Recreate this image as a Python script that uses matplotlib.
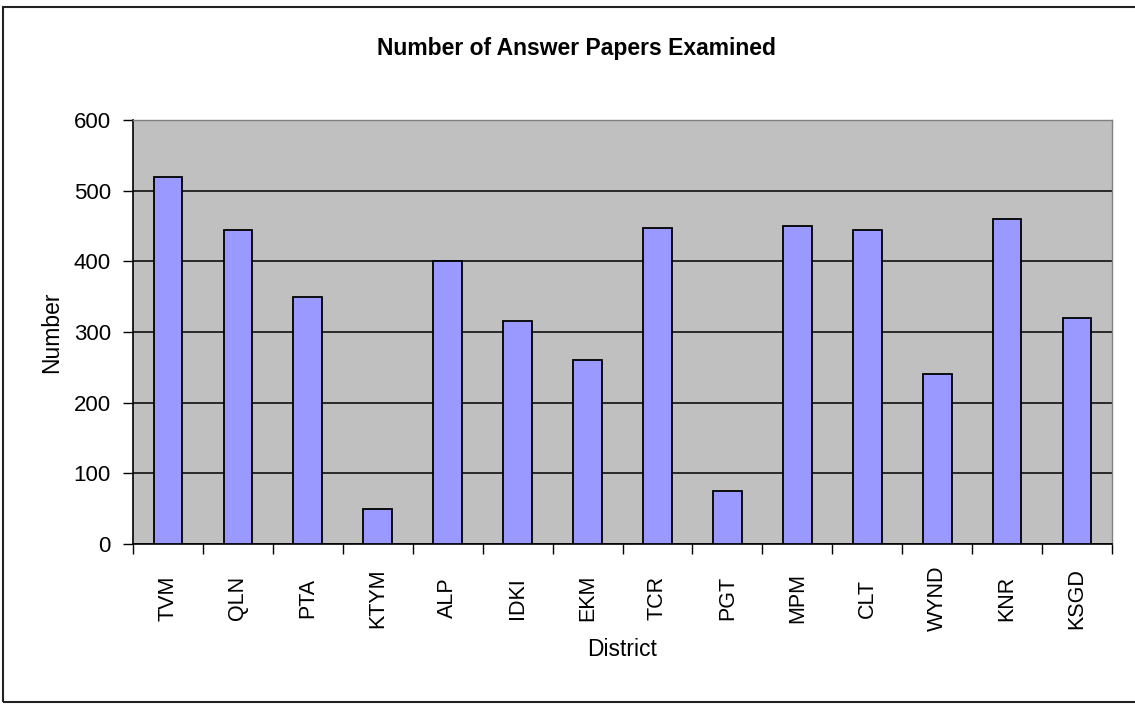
import matplotlib
matplotlib.use("Agg")
import matplotlib.pyplot as plt
from matplotlib.patches import Rectangle
import numpy as np

districts = ["TVM", "QLN", "PTA", "KTYM", "ALP", "IDKI", "EKM",
             "TCR", "PGT", "MPM", "CLT", "WYND", "KNR", "KSGD"]
papers = [520, 445, 350, 50, 400, 315, 260, 447, 75, 450, 445, 240, 460, 320]
yticks = [0, 100, 200, 300, 400, 500, 600]

plt.rcParams['font.family'] = ['Liberation Sans', 'DejaVu Sans']

W, H = 1135, 711
fig = plt.figure(figsize=(W / 100, H / 100), dpi=100)
fig.patch.set_facecolor('white')

ax = fig.add_axes([133 / W, 1 - 544 / H, (1112 - 133) / W, (544 - 120) / H])
ax.set_facecolor('#C0C0C0')

x = np.arange(len(districts))
ax.set_axisbelow(True)
ax.yaxis.grid(True, color='black', linewidth=1.1)
ax.bar(x, papers, width=0.41, color='#9999FF', edgecolor='black', linewidth=1.3, zorder=3)

ax.set_xlim(-0.5, len(districts) - 0.5)
ax.set_ylim(0, 600)
ax.set_yticks(yticks)
ax.tick_params(axis='y', direction='out', length=7, width=1, pad=9, labelsize=16)

ax.set_xticks(x)
ax.set_xticklabels(districts, rotation=90, fontsize=15.5)
ax.tick_params(axis='x', which='major', length=0, pad=39)
for lbl in ax.get_xticklabels():
    lbl.set_va('center')
ax.set_xticks(np.arange(len(districts) + 1) - 0.5, minor=True)
ax.tick_params(axis='x', which='minor', direction='out', length=7, width=1)

for s in ['left', 'bottom']:
    ax.spines[s].set_color('black')
    ax.spines[s].set_linewidth(1.2)
for s in ['top', 'right']:
    ax.spines[s].set_color('#808080')
    ax.spines[s].set_linewidth(1.0)

ax.set_xlabel('District', fontsize=16.5, va='center')
ax.xaxis.set_label_coords(0.5, -(650 - 544) / (544 - 120))
ax.set_ylabel('Number', fontsize=16.5, va='center', ha='center')
ax.yaxis.set_label_coords(-(133 - 52) / (1112 - 133), 0.5)

fig.text(576 / W, 1 - 48 / H, 'Number of Answer Papers Examined',
         ha='center', va='center', fontsize=16.5, fontweight='bold')

fig.patches.append(Rectangle((3 / W, 1 - 702 / H), 1.2, (702 - 7) / H,
                             transform=fig.transFigure, fill=False,
                             edgecolor='#222222', linewidth=1.5))

fig.savefig('out.png', dpi=100)
